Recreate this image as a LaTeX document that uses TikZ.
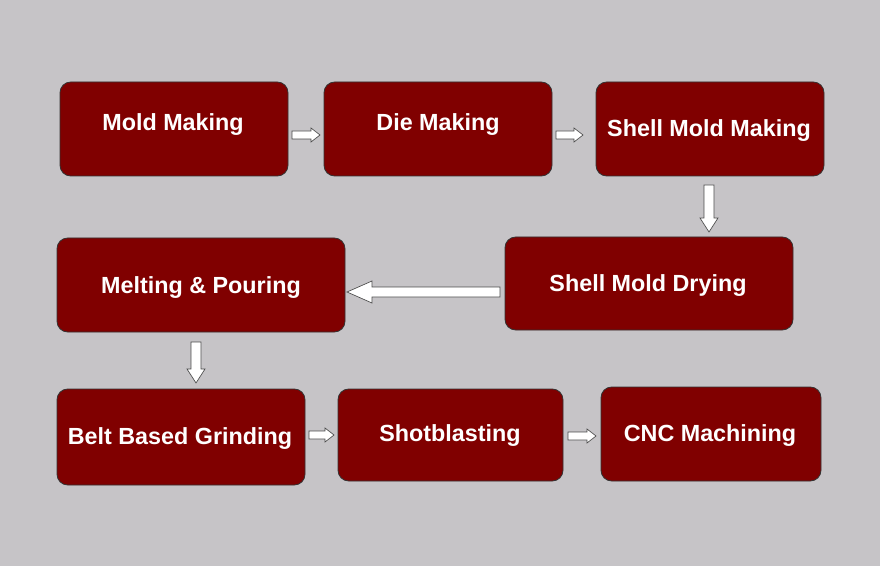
\documentclass[tikz,border=0pt]{standalone}
\usepackage{fontspec}
\setmainfont{Liberation Sans}
\definecolor{bg}{HTML}{C6C4C7}
\definecolor{boxred}{HTML}{800000}
\tikzset{
  stepbox/.style={draw=black!80,line width=0.6pt,fill=boxred,rounded corners=8pt},
  steptext/.style={text=white,font=\bfseries\fontsize{17.5}{19}\selectfont},
  blk/.style={draw=black!70,fill=white,line width=0.5pt,line join=miter},
}
\newcommand{\bx}[8]{\path[stepbox] (#2,#3) rectangle (#4,#5); \node[steptext] (#1) at (#6,#7) {#8};}
% horizontal arrow: x-tail, x-tip, y, shaft half, head half, head length
\newcommand{\harr}[6]{\path[blk] (#1,#3-#4) -- ({#2-#6},#3-#4) -- ({#2-#6},#3-#5) -- (#2,#3) -- ({#2-#6},#3+#5) -- ({#2-#6},#3+#4) -- (#1,#3+#4) -- cycle;}
% vertical arrow: y-tail, y-tip, x, shaft half, head half, head length (down)
\newcommand{\varr}[6]{\path[blk] (#3-#4,#1) -- (#3-#4,{#2-#6}) -- (#3-#5,{#2-#6}) -- (#3,#2) -- (#3+#5,{#2-#6}) -- (#3+#4,{#2-#6}) -- (#3+#4,#1) -- cycle;}
\begin{document}
\begin{tikzpicture}[x=0.75pt,y=-0.75pt]
\fill[bg] (0,0) rectangle (880,566);
\useasboundingbox (0,0) rectangle (880,566);
\bx{a}{60}{82}{288}{176}{173}{125}{Mold Making}
\bx{b}{324}{82}{552}{176}{438}{125}{Die Making}
\bx{c}{596}{82}{824}{176}{709}{131}{Shell Mold Making}
\bx{d}{505}{237}{793}{330}{648}{286}{Shell Mold Drying}
\bx{e}{57}{238}{345}{332}{201}{288}{Melting \& Pouring}
\bx{f}{57}{389}{305}{485}{180}{439}{Belt Based Grinding}
\bx{g}{338}{389}{563}{481}{450}{436}{Shotblasting}
\bx{h}{601}{387}{821}{481}{710}{436}{CNC Machining}
\harr{292}{320}{135}{4}{7}{9}
\harr{556}{583}{135}{4}{7}{9}
\varr{185}{232}{709}{5}{9}{14}
\path[blk] (500,287) -- (372,287) -- (372,281) -- (347,292) -- (372,303) -- (372,297) -- (500,297) -- cycle;
\varr{342}{383}{196}{5}{9}{14}
\harr{309}{334}{435}{4}{7}{9}
\harr{568}{596}{436}{4}{7}{9}
\end{tikzpicture}
\end{document}
